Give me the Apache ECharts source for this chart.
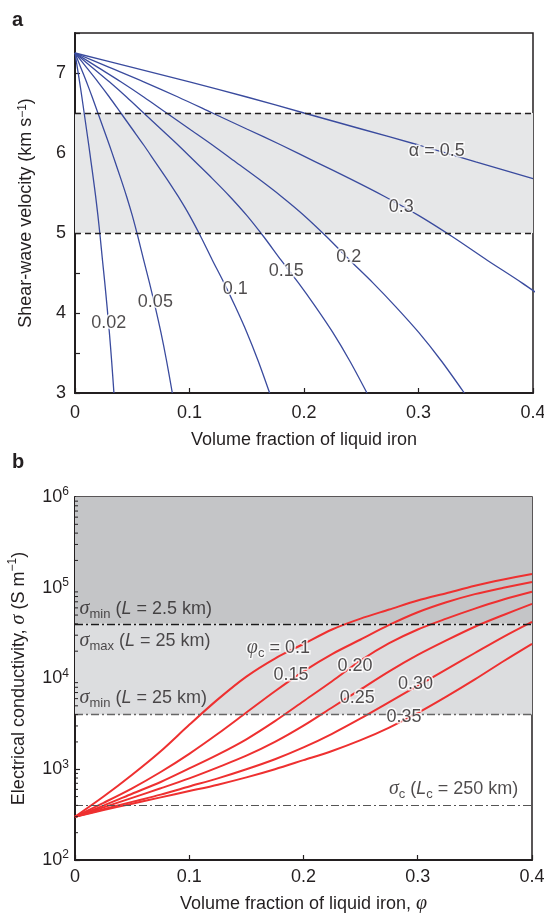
<!DOCTYPE html>
<html>
<head>
<meta charset="utf-8">
<script src="https://cdn.jsdelivr.net/npm/echarts@6/dist/echarts.min.js"></script>
<style>
html, body { margin: 0; padding: 0; background: #fff; }
#chart { width: 544px; height: 913px; }
</style>
</head>
<body>
<div id="chart"></div>
<script>
// ---- panel a: shear-wave velocity levels (km/s) and the liquid fraction where each alpha curve reaches them
const vsLevels = [7.25, 7.07, 6.89, 6.70, 6.50, 6.30, 6.10, 5.89, 5.68, 5.46, 5.22, 4.95, 4.66, 4.38, 4.08, 3.76, 3.40, 3.0]
const phiA002 = [0, 0.002, 0.004, 0.006, 0.008, 0.010, 0.012, 0.014, 0.016, 0.018, 0.020, 0.022, 0.024, 0.026, 0.028, 0.030, 0.032, 0.034]
const phiA005 = [0, 0.005, 0.01, 0.015, 0.02, 0.025, 0.03, 0.035, 0.04, 0.045, 0.05, 0.055, 0.06, 0.065, 0.07, 0.075, 0.08, 0.085]
const phiA01 = [0, 0.01, 0.02, 0.03, 0.04, 0.05, 0.06, 0.07, 0.08, 0.09, 0.10, 0.11, 0.12, 0.13, 0.14, 0.15, 0.16, 0.17]
const phiA015 = [0, 0.015, 0.03, 0.045, 0.06, 0.075, 0.09, 0.105, 0.12, 0.135, 0.15, 0.165, 0.18, 0.195, 0.21, 0.225, 0.24, 0.255]
const phiA02 = [0, 0.02, 0.04, 0.06, 0.08, 0.10, 0.12, 0.14, 0.16, 0.18, 0.20, 0.22, 0.24, 0.26, 0.28, 0.30, 0.32, 0.34]
const phiA03 = [0, 0.03, 0.06, 0.09, 0.12, 0.15, 0.18, 0.21, 0.24, 0.27, 0.30, 0.33, 0.36, 0.39, 0.42]
const phiA05 = [0, 0.05, 0.10, 0.15, 0.20, 0.25, 0.30, 0.35, 0.40]
const alphaCurves = [phiA002, phiA005, phiA01, phiA015, phiA02, phiA03, phiA05]
const bandA = [5, 6.5]
const labelsA = [
  { value: [0.316, 6.03], text: 'α = 0.5' },
  { value: [0.285, 5.33], text: '0.3' },
  { value: [0.239, 4.70], text: '0.2' },
  { value: [0.1845, 4.53], text: '0.15' },
  { value: [0.140, 4.30], text: '0.1' },
  { value: [0.0702, 4.14], text: '0.05' },
  { value: [0.0295, 3.87], text: '0.02' }
]

// ---- panel b: electrical conductivity (S/m) against liquid fraction, one list per phi_c
const phiB = [0, 0.025, 0.05, 0.075, 0.1, 0.125, 0.15, 0.175, 0.2, 0.225, 0.25, 0.275, 0.3, 0.325, 0.35, 0.375, 0.4]
const sigmaC010 = [300, 500, 870, 1580, 3090, 5890, 10500, 16600, 24000, 34700, 45700, 57500, 72400, 87100, 105000, 123000, 142000]
const sigmaC015 = [300, 427, 617, 933, 1480, 2460, 4220, 7240, 12000, 18600, 26900, 38900, 53700, 69200, 85100, 100000, 116000]
const sigmaC020 = [300, 398, 537, 724, 1020, 1450, 2140, 3390, 5620, 9330, 15800, 24500, 34700, 45700, 58900, 74100, 90200]
const sigmaC025 = [300, 380, 484, 617, 794, 1050, 1410, 2000, 3020, 4790, 7590, 12000, 18200, 26300, 37200, 50100, 66400]
const sigmaC030 = [300, 363, 437, 525, 646, 794, 1000, 1290, 1740, 2460, 3630, 5500, 8320, 12600, 19100, 28800, 42100]
const sigmaC035 = [300, 355, 417, 490, 575, 676, 813, 1000, 1260, 1590, 2090, 2880, 4170, 6310, 9770, 15500, 24100]
const sigmaCurves = [sigmaC010, sigmaC015, sigmaC020, sigmaC025, sigmaC030, sigmaC035]
const sigmaMinThin = 40000 // sigma_min, L = 2.5 km
const sigmaMinThick = 4000 // sigma_min, L = 25 km
const sigmaCore = 400 // sigma_c, Lc = 250 km
const minorTicksB = [200, 300, 400, 500, 600, 700, 800, 900, 2000, 3000, 4000, 5000, 6000, 7000, 8000, 9000,
  20000, 30000, 40000, 50000, 60000, 70000, 80000, 90000, 200000, 300000, 400000, 500000, 600000, 700000, 800000, 900000]
const labelsB = [
  { value: [0.178, 21900], text: '{p|φ}{sub|c} = 0.1' },
  { value: [0.189, 10800], text: '0.15' },
  { value: [0.245, 13600], text: '0.20' },
  { value: [0.247, 6030], text: '0.25' },
  { value: [0.298, 8630], text: '0.30' },
  { value: [0.288, 3780], text: '0.35' }
]
const notesB = [
  { value: [0.004, 58000], text: '{s|σ}{sub|min} ({i|L} = 2.5 km)', align: 'left' },
  { value: [0.004, 26000], text: '{s|σ}{sub|max} ({i|L} = 25 km)', align: 'left' },
  { value: [0.004, 6100], text: '{s|σ}{sub|min} ({i|L} = 25 km)', align: 'left' },
  { value: [0.388, 605], text: '{s|σ}{sub|c} ({i|L}{sub|c} = 250 km)', align: 'right' }
]

const FONT = 'Liberation Sans'
const INK = '#231f20'
const BLUE = '#3a4b9e'
const RED = '#ee3030'

const richText = {
  sup: { fontSize: 12, fontFamily: FONT, color: INK, verticalAlign: 'top', lineHeight: 12 },
  sub: { fontSize: 13, fontFamily: FONT, color: INK, verticalAlign: 'bottom', lineHeight: 13 },
  s: { fontSize: 20, fontFamily: 'Liberation Serif', fontStyle: 'italic', color: INK, lineHeight: 24 },
  i: { fontSize: 18, fontFamily: FONT, fontStyle: 'italic', color: INK, lineHeight: 24 },
  p: { fontSize: 20, fontFamily: 'Liberation Serif', fontStyle: 'italic', color: INK, lineHeight: 24 }
}

const chart = echarts.init(document.getElementById('chart'))

function axisBase(gridIndex) {
  return {
    gridIndex: gridIndex,
    axisLine: { lineStyle: { color: INK, width: 2 } },
    axisTick: { inside: true, length: 5, lineStyle: { color: INK, width: 1.2 } },
    axisLabel: { color: INK, fontSize: 18, fontFamily: FONT },
    splitLine: { show: false },
    nameLocation: 'middle',
    nameTextStyle: { color: INK, fontSize: 18, fontFamily: FONT, rich: richText }
  }
}

const series = []

// grey band and dashed limits of panel a
series.push({
  type: 'line', xAxisIndex: 0, yAxisIndex: 0, data: [], silent: true, z: 1,
  markArea: {
    silent: true,
    itemStyle: { color: '#e6e7e8' },
    data: [[{ yAxis: bandA[0] }, { yAxis: bandA[1] }]]
  },
  markLine: {
    silent: true, symbol: 'none', label: { show: false },
    lineStyle: { color: INK, width: 1.3, type: [6, 4] },
    data: [{ yAxis: bandA[0] }, { yAxis: bandA[1] }]
  }
})

alphaCurves.forEach(function (phis) {
  series.push({
    type: 'line', xAxisIndex: 0, yAxisIndex: 0, z: 3,
    showSymbol: false, smooth: 0.3, silent: true,
    lineStyle: { color: BLUE, width: 1.3 },
    data: phis.map(function (p, i) { return [p, vsLevels[i]] })
  })
})

series.push({
  type: 'scatter', xAxisIndex: 0, yAxisIndex: 0, z: 5, silent: true,
  symbolSize: 0,
  label: {
    show: true, position: 'inside', color: INK, fontSize: 18, fontFamily: FONT,
    textBorderColor: '#fff', textBorderWidth: 3,
    formatter: function (p) { return p.data.text }
  },
  data: labelsA
})

// shaded regions and dash-dot limits of panel b
series.push({
  type: 'line', xAxisIndex: 1, yAxisIndex: 1, data: [], silent: true, z: 1,
  markArea: {
    silent: true,
    data: [
      [{ yAxis: sigmaMinThin, itemStyle: { color: '#c4c5c7' } }, { yAxis: 1e6 }],
      [{ yAxis: sigmaMinThick, itemStyle: { color: '#dcdddf' } }, { yAxis: sigmaMinThin }]
    ]
  },
  markLine: {
    silent: true, symbol: 'none', label: { show: false },
    data: [
      { yAxis: sigmaMinThin, lineStyle: { color: '#1a1a1a', width: 1.4, type: [8, 3, 2, 3] } },
      { yAxis: sigmaMinThick, lineStyle: { color: '#666', width: 1.4, type: [8, 3, 2, 3] } },
      { yAxis: sigmaCore, lineStyle: { color: '#555', width: 1.1, type: [8, 3, 2, 3] } }
    ]
  }
})

sigmaCurves.forEach(function (vals) {
  series.push({
    type: 'line', xAxisIndex: 1, yAxisIndex: 1, z: 3,
    showSymbol: false, smooth: 0.3, silent: true,
    lineStyle: { color: RED, width: 2 },
    data: vals.map(function (v, i) { return [phiB[i], v] })
  })
})

// minor log ticks on the left axis of panel b
series.push({
  type: 'custom', xAxisIndex: 1, yAxisIndex: 1, z: 6, silent: true,
  renderItem: function (params, api) {
    const p = api.coord([0, api.value(1)])
    return {
      type: 'line',
      shape: { x1: p[0], y1: p[1], x2: p[0] + 3, y2: p[1] },
      style: { stroke: INK, lineWidth: 1 }
    }
  },
  data: minorTicksB.map(function (v) { return [0, v] })
})

series.push({
  type: 'scatter', xAxisIndex: 1, yAxisIndex: 1, z: 5, silent: true,
  symbolSize: 0,
  label: {
    show: true, position: 'inside', color: INK, fontSize: 18, fontFamily: FONT,
    textBorderColor: '#fff', textBorderWidth: 3, rich: richText,
    formatter: function (p) { return p.data.text }
  },
  data: labelsB
})

series.push({
  type: 'scatter', xAxisIndex: 1, yAxisIndex: 1, z: 5, silent: true,
  symbolSize: 0,
  label: {
    show: true, position: 'inside', color: INK, fontSize: 18, fontFamily: FONT,
    rich: richText,
    formatter: function (p) { return p.data.text }
  },
  data: notesB.map(function (n) {
    return { value: n.value, text: n.text, label: { align: n.align } }
  })
})

chart.setOption({
  animation: false,
  backgroundColor: '#fff',
  textStyle: { fontFamily: FONT },
  graphic: [
    { type: 'text', left: 12, top: 10, style: { text: 'a', font: 'bold 20px "Liberation Sans"', fill: INK } },
    { type: 'text', left: 12, top: 452, style: { text: 'b', font: 'bold 20px "Liberation Sans"', fill: INK } }
  ],
  grid: [
    { left: 75, right: 11, top: 33, height: 360, show: true, borderColor: INK, borderWidth: 1.5, backgroundColor: 'transparent', outerBoundsMode: 'none' },
    { left: 75, right: 12, top: 497, height: 363, show: true, borderColor: INK, borderWidth: 1.5, backgroundColor: 'transparent', outerBoundsMode: 'none' }
  ],
  xAxis: [
    Object.assign(axisBase(0), {
      type: 'value', min: 0, max: 0.4, interval: 0.1,
      name: 'Volume fraction of liquid iron', nameGap: 38,
      axisLabel: { color: INK, fontSize: 18, fontFamily: FONT, margin: 11 }
    }),
    Object.assign(axisBase(1), {
      type: 'value', min: 0, max: 0.4, interval: 0.1,
      name: 'Volume fraction of liquid iron, {p|φ}', nameGap: 32
    })
  ],
  yAxis: [
    Object.assign(axisBase(0), {
      type: 'value', min: 3, max: 7.5, interval: 0.5,
      name: 'Shear-wave velocity (km s{sup|−1})', nameGap: 40,
      axisLabel: {
        color: INK, fontSize: 18, fontFamily: FONT, margin: 9,
        formatter: function (v) { return Number.isInteger(v) ? String(v) : '' }
      }
    }),
    Object.assign(axisBase(1), {
      type: 'log', logBase: 10, min: 100, max: 1000000,
      name: 'Electrical conductivity, {p|σ} (S m{sup|−1})', nameGap: 44,
      axisLabel: {
        color: INK, fontFamily: FONT, margin: 6,
        formatter: function (v) { return '{b|10}{e|' + Math.round(Math.log10(v)) + '}' },
        rich: {
          b: { fontSize: 18, fontFamily: FONT, color: INK, lineHeight: 22 },
          e: { fontSize: 12, fontFamily: FONT, color: INK, verticalAlign: 'top', lineHeight: 12 }
        }
      }
    })
  ],
  series: series
})
</script>
</body>
</html>
